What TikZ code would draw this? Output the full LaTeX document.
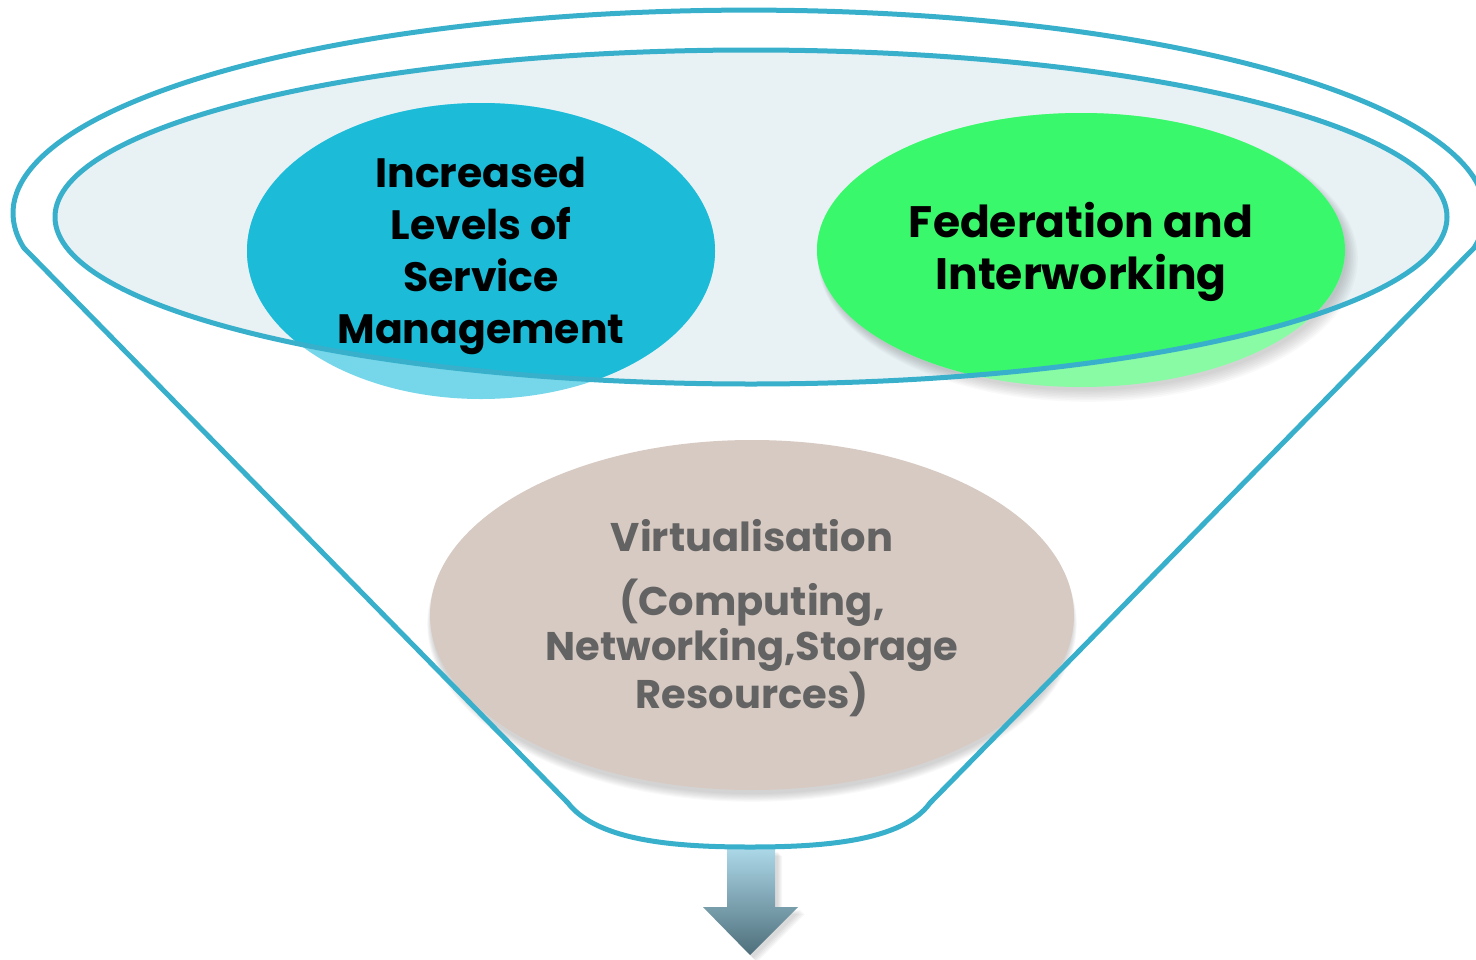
\documentclass[tikz,border=0pt]{standalone}
\usepackage{fontspec}
\setmainfont{Poppins}
\definecolor{rim}{HTML}{38B0CC}
\definecolor{innerfill}{HTML}{E8F1F4}
\definecolor{bluefull}{HTML}{1CBBD8}
\definecolor{bluelight}{HTML}{75D7E9}
\definecolor{greenfull}{HTML}{39F86B}
\definecolor{greenlight}{HTML}{89FBA5}
\definecolor{beige}{HTML}{D7CAC2}
\definecolor{graytext}{HTML}{636363}
\definecolor{arrowtop}{HTML}{AEDAEA}
\definecolor{arrowbot}{HTML}{4E6E7B}
\tikzset{
  rimline/.style={draw=rim, line width=5pt, line join=round},
  bluetext/.style={align=center, text=black, font=\bfseries\fontsize{41}{52}\selectfont},
  bigtext/.style={align=center, text=black, font=\bfseries\fontsize{44}{52}\selectfont},
  greytext/.style={align=center, text=graytext, font=\bfseries\fontsize{40}{45}\selectfont},
}
\begin{document}
\begin{tikzpicture}[x=1pt,y=-1pt]
\useasboundingbox (0,0) rectangle (1476,959);
\clip (0,0) rectangle (1476,959);
% inner ellipse fill
\fill[innerfill] (751,217) ellipse [x radius=696, y radius=167];
% green shadow
\foreach \i in {1,...,8} {
  \fill[black, opacity=0.025] (1083+\i*0.6,254+\i*0.6) ellipse [x radius=262+\i, y radius=135+\i];
}
% bubbles, light part
\fill[bluelight] (481,251) ellipse [x radius=234, y radius=148];
\fill[greenlight] (1081,250) ellipse [x radius=264, y radius=137];
% bubbles, full part inside the inner ellipse
\begin{scope}
  \clip (751,217) ellipse [x radius=696, y radius=167];
  \fill[bluefull] (481,251) ellipse [x radius=234, y radius=148];
  \fill[greenfull] (1081,250) ellipse [x radius=264, y radius=137];
\end{scope}
% virtualisation shadow and ellipse
\foreach \i in {1,...,8} {
  \fill[black, opacity=0.025] (752,620+\i*0.5) ellipse [x radius=320+\i*0.6, y radius=173+\i*0.6];
}
\fill[beige] (752,615) ellipse [x radius=322, y radius=175];
% arrow
\foreach \i in {1,...,5} {
  \fill[black, opacity=0.03] (729+\i,851+\i) -- (777+\i,851+\i) -- (777+\i,909+\i) -- (800+\i,909+\i) -- (752+\i,957+\i) -- (705+\i,909+\i) -- (729+\i,909+\i) -- cycle;
}
\shade[top color=arrowtop, bottom color=arrowbot] (727,846) -- (775,846) -- (775,907) -- (798,907) -- (750,955) -- (703,907) -- (727,907) -- cycle;
% funnel outline
\draw[rimline] (24,248) -- (568,803)
  .. controls (598,842) and (680,847) .. (750,847)
  .. controls (820,847) and (902,842) .. (930,803)
  -- (1474,248)
  arc [start angle=9.9, end angle=-189.9, x radius=736, y radius=203] -- cycle;
% inner ellipse rim
\draw[rimline] (751,217) ellipse [x radius=696, y radius=167];
% texts
\node[bluetext] (service) at (481,256) {Increased\\Levels of\\Service\\Management};
\node[bigtext] (federation) at (1081,252) {Federation and\\Interworking};
\node[greytext] (virt) at (752,536) {Virtualisation};
\node[greytext] (resources) at (752,648) {(Computing,\\Networking,Storage\\Resources)};
\end{tikzpicture}
\end{document}
